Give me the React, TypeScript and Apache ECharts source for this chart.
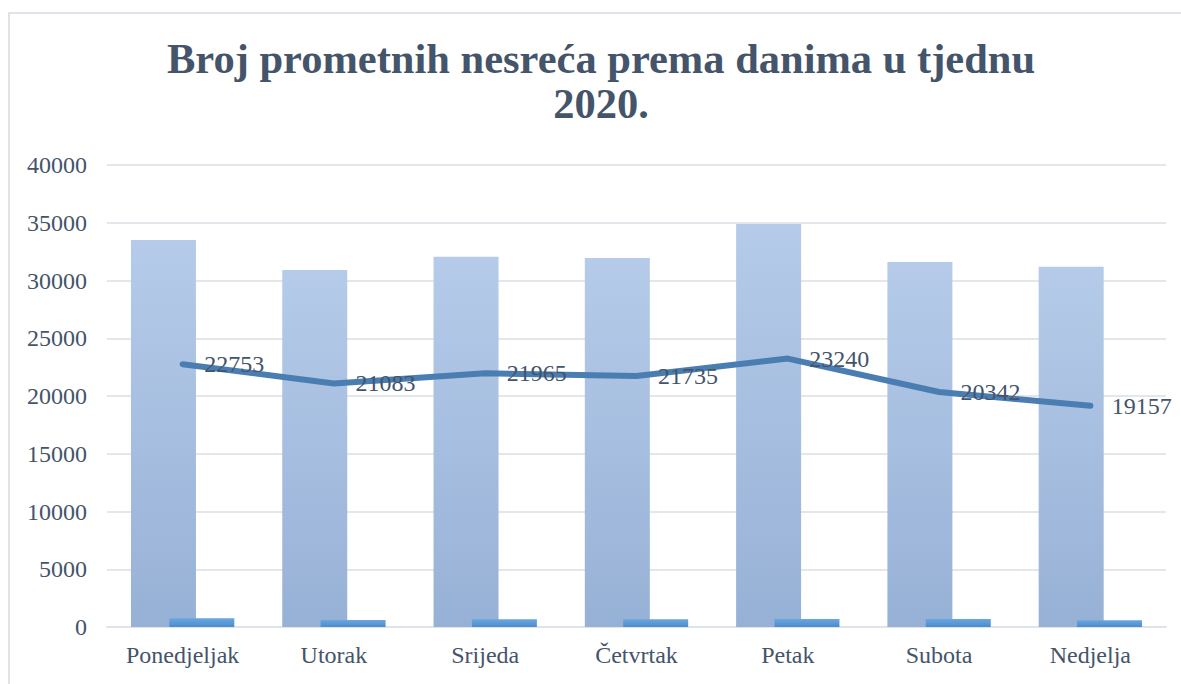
import React, { useEffect, useRef } from "react";
import * as echarts from "echarts";

const categories = ["Ponedjeljak", "Utorak", "Srijeda", "Četvrtak", "Petak", "Subota", "Nedjelja"];
const tallBars = [33500, 30900, 32050, 31950, 34900, 31600, 31200];
const smallBars = [750, 600, 680, 680, 690, 690, 580];
const lineValues = [22753, 21083, 21965, 21735, 23240, 20342, 19157];
const titleText = "Broj prometnih nesreća prema danima u tjednu\n2020.";

const TEXT = "#44546A";
const FONT = "'Liberation Serif', 'Times New Roman', serif";

export default function App() {
  const ref = useRef<HTMLDivElement>(null);
  useEffect(() => {
    if (!ref.current) return;
    const chart = echarts.init(ref.current, undefined, { renderer: "svg" });
    chart.setOption({
      animation: false,
      backgroundColor: "#ffffff",
      title: {
        text: titleText,
        left: 596,
        textAlign: "center",
        top: 31,
        textStyle: {
          fontFamily: FONT,
          fontWeight: "bold",
          fontSize: 42.5,
          lineHeight: 45,
          color: TEXT,
        },
      },
      graphic: [
        {
          type: "rect",
          shape: { x: 9, y: 13, width: 1200, height: 700 },
          style: { fill: "none", stroke: "#dfe3ea", lineWidth: 2 },
          silent: true,
        },
      ],
      grid: { left: 107, right: 15, top: 165, bottom: 57, containLabel: false },
      xAxis: {
        type: "category",
        data: categories,
        axisTick: { show: false },
        axisLine: { lineStyle: { color: "#dfe3ea", width: 2 } },
        axisLabel: { fontFamily: FONT, fontSize: 24, color: TEXT, margin: 16 },
      },
      yAxis: {
        type: "value",
        min: 0,
        max: 40000,
        interval: 5000,
        axisLine: { show: false },
        axisTick: { show: false },
        splitLine: { lineStyle: { color: "#e3e6eb", width: 2 } },
        axisLabel: {
          fontFamily: FONT,
          fontSize: 24,
          color: TEXT,
          margin: 20,
          formatter: (v: number) => String(v),
        },
      },
      series: [
        {
          type: "bar",
          data: tallBars,
          barWidth: 65,
          barGap: "-41%",
          itemStyle: {
            color: new echarts.graphic.LinearGradient(0, 0, 0, 1, [
              { offset: 0, color: "#b5cbe9" },
              { offset: 1, color: "#97b1d6" },
            ]),
          },
        },
        {
          type: "bar",
          data: smallBars,
          barWidth: 65,
          z: 3,
          itemStyle: {
            color: new echarts.graphic.LinearGradient(0, 0, 0, 1, [
              { offset: 0, color: "#6aa7df" },
              { offset: 1, color: "#4b8ccf" },
            ]),
          },
        },
        {
          type: "line",
          data: lineValues,
          z: 5,
          symbol: "circle",
          symbolSize: 3,
          itemStyle: { color: "#4a7db1" },
          lineStyle: { color: "#4a7db1", width: 6, cap: "round" },
          label: {
            show: true,
            position: "right",
            distance: 20,
            fontFamily: FONT,
            fontSize: 24,
            color: TEXT,
          },
        },
      ],
    });
    return () => chart.dispose();
  }, []);
  return (
    <div
      ref={ref}
      style={{ position: "fixed", left: 0, top: 0, width: 1181, height: 684 }}
    />
  );
}
